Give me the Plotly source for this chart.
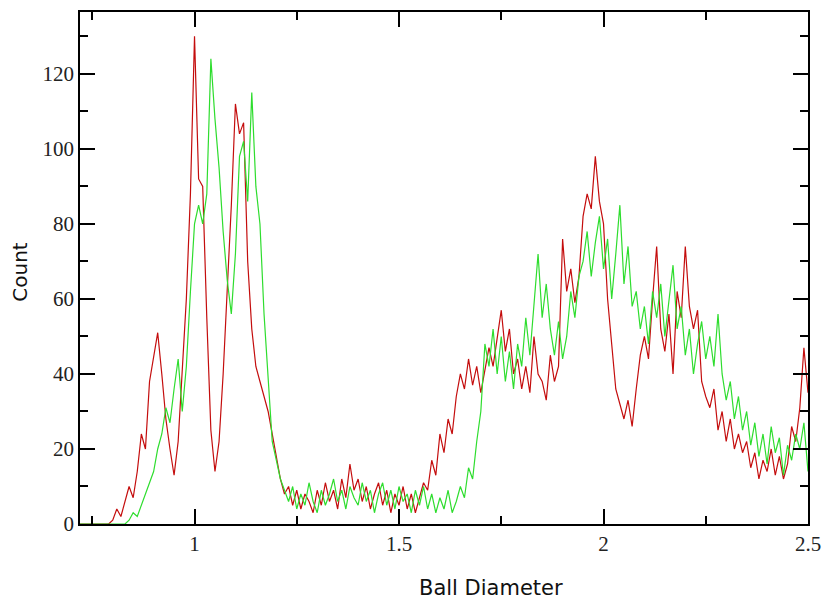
import numpy as np
import plotly.graph_objects as go

x_start = 0.72
x_step = 0.01

red_counts = [0, 0, 0, 0, 0, 0, 0, 0, 1, 4, 2, 6, 10, 7, 14, 24, 20, 38, 45, 51,
              40, 28, 20, 13, 22, 40, 60, 88, 130, 92, 90, 55, 25, 14, 22, 40, 62, 85, 112, 104,
              107, 70, 52, 42, 38, 34, 30, 24, 18, 12, 8, 10, 5, 9, 4, 8, 6, 3, 9, 5,
              11, 6, 9, 4, 12, 7, 16, 9, 12, 6, 10, 4, 8, 11, 5, 9, 3, 8, 5, 10,
              4, 8, 3, 7, 11, 9, 17, 13, 24, 19, 28, 24, 34, 40, 36, 44, 37, 42, 35, 41,
              47, 42, 50, 57, 46, 52, 40, 44, 36, 42, 35, 50, 40, 38, 33, 45, 38, 42, 76, 62,
              68, 59, 66, 82, 88, 84, 98, 86, 80, 60, 48, 36, 32, 28, 33, 26, 36, 45, 50, 44,
              60, 74, 52, 46, 56, 40, 62, 55, 74, 58, 52, 57, 38, 34, 31, 36, 25, 30, 22, 28,
              20, 24, 19, 22, 15, 19, 12, 17, 14, 20, 13, 18, 12, 16, 26, 22, 31, 47, 35]

green_counts = [0, 0, 0, 0, 0, 0, 0, 0, 0, 0, 0, 0, 1, 3, 2, 5, 8, 11, 14, 20,
                24, 31, 27, 36, 44, 30, 42, 62, 80, 85, 80, 88, 124, 108, 95, 78, 65, 56, 72, 98,
                102, 86, 115, 90, 80, 56, 40, 22, 17, 12, 9, 6, 10, 4, 8, 5, 11, 6, 3, 9,
                5, 8, 12, 6, 9, 4, 10, 7, 5, 11, 6, 9, 3, 8, 11, 5, 9, 4, 10, 6,
                8, 3, 9, 5, 10, 4, 8, 3, 7, 4, 9, 3, 6, 10, 7, 15, 12, 22, 30, 48,
                42, 52, 40, 50, 38, 46, 36, 48, 42, 55, 45, 58, 72, 55, 64, 52, 45, 54, 44, 50,
                62, 55, 66, 70, 78, 66, 75, 82, 68, 76, 60, 72, 85, 64, 74, 58, 62, 52, 58, 48,
                62, 55, 64, 50, 60, 69, 52, 58, 45, 52, 40, 48, 54, 44, 50, 42, 56, 40, 33, 38,
                28, 34, 25, 30, 21, 27, 18, 24, 16, 26, 19, 23, 13, 21, 17, 24, 20, 27, 14]

x_tick_vals = [1, 1.5, 2, 2.5]
x_tick_text = ["1", "1.5", "2", "2.5"]
y_tick_vals = [0, 20, 40, 60, 80, 100, 120]
y_tick_text = ["0", "20", "40", "60", "80", "100", "120"]

n = len(red_counts)
diam = [round(x_start + x_step * i, 4) for i in range(n)]

fig = go.Figure()
fig.add_trace(go.Scatter(x=diam, y=red_counts, mode="lines",
                         line=dict(color="#c40d0d", width=1.2), showlegend=False))
fig.add_trace(go.Scatter(x=diam, y=green_counts, mode="lines",
                         line=dict(color="#2edd2e", width=1.2), showlegend=False))

tick_font = dict(family="Liberation Serif", size=21, color="#222222")

fig.update_layout(
    width=831, height=600,
    margin=dict(l=80, r=14, t=10, b=76),
    paper_bgcolor="white", plot_bgcolor="white",
    xaxis=dict(range=[0.72, 2.5], showgrid=False, zeroline=False,
               showline=True, linecolor="black", linewidth=1.5, mirror="ticks",
               ticks="inside", ticklen=15, tickwidth=1.5, tickcolor="black",
               tickvals=x_tick_vals, ticktext=x_tick_text, tickfont=tick_font,
               ticklabelstandoff=0,
               minor=dict(ticks="inside", ticklen=8, tickwidth=1.5, tickcolor="black",
                          dtick=0.25, tick0=0, showgrid=False)),
    yaxis=dict(range=[0, 136.5], showgrid=False, zeroline=False,
               showline=True, linecolor="black", linewidth=1.5, mirror="ticks",
               ticks="inside", ticklen=15, tickwidth=1.5, tickcolor="black",
               tickvals=y_tick_vals, ticktext=y_tick_text, tickfont=tick_font,
               ticklabelstandoff=0,
               minor=dict(ticks="inside", ticklen=8, tickwidth=1.5, tickcolor="black",
                          dtick=10, tick0=0, showgrid=False)),
)

fig.add_annotation(text="Ball Diameter", xref="paper", yref="paper",
                   x=(496 - 80) / 737, y=-(588 - 524) / 514,
                   showarrow=False, font=dict(family="DejaVu Sans", size=21, color="#111111"),
                   xanchor="center", yanchor="middle")
fig.add_annotation(text="Count", xref="paper", yref="paper",
                   x=-(80 - 19) / 737, y=(524 - 271) / 514, textangle=-90,
                   showarrow=False, font=dict(family="DejaVu Sans", size=20, color="#111111"),
                   xanchor="center", yanchor="middle")

fig.write_html("out.html")
